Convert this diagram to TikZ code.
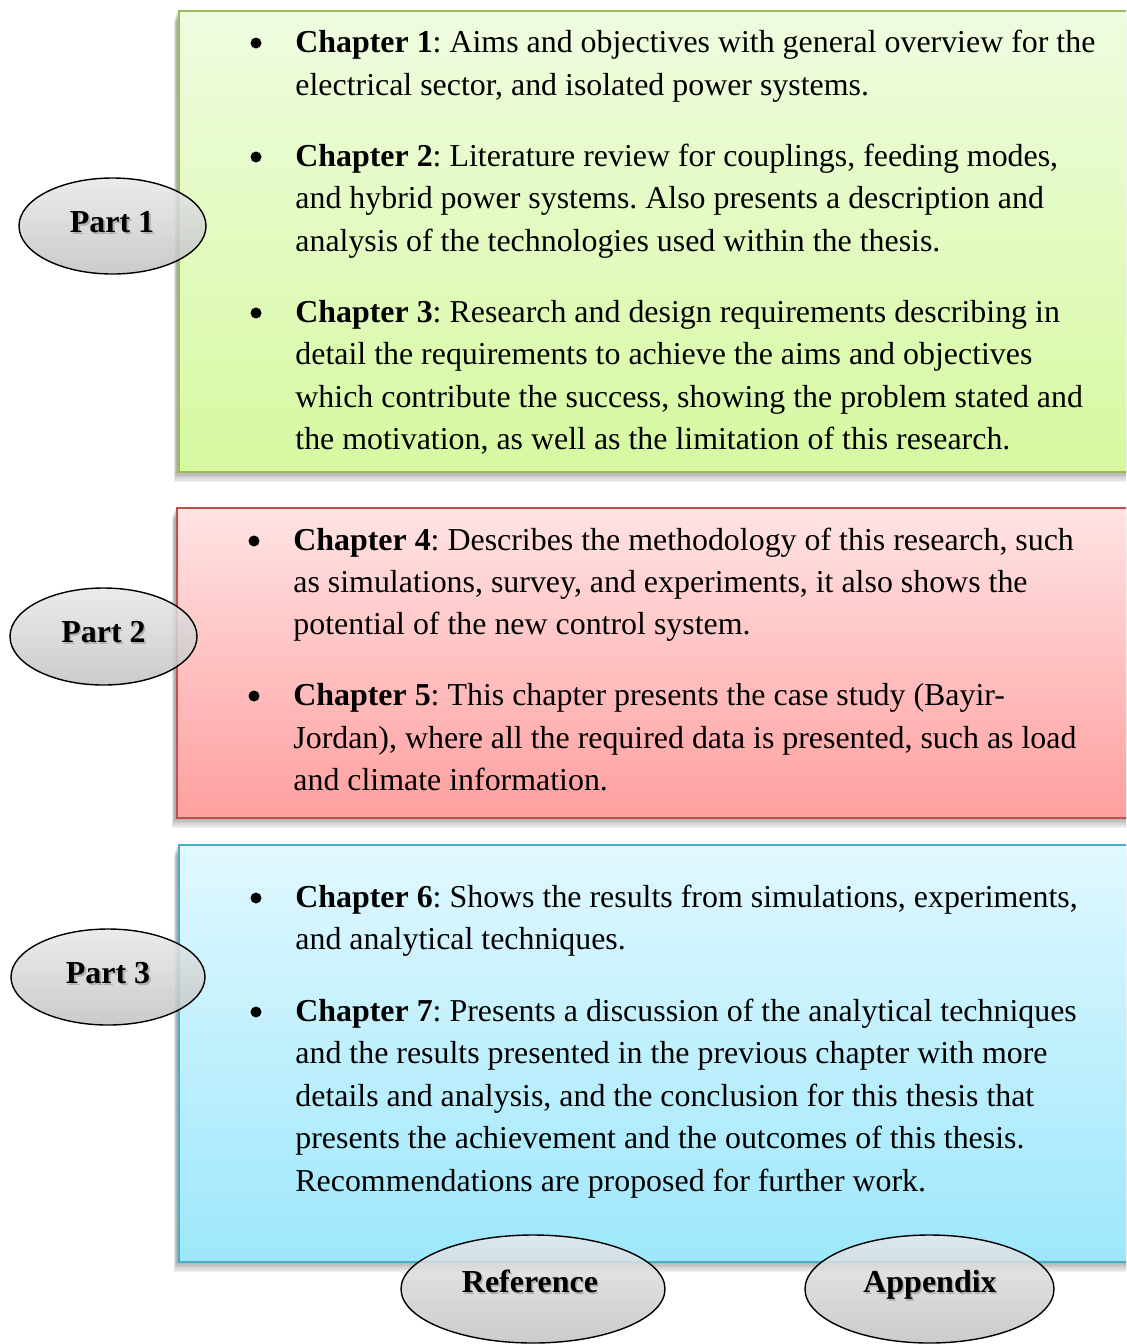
\documentclass[tikz,border=0pt]{standalone}
\usepackage{fontspec}
\setmainfont{Liberation Serif}
\usetikzlibrary{shapes.geometric}
\frenchspacing
\definecolor{gbord}{HTML}{9BBB59}
\definecolor{gtop}{HTML}{EFFCE0}
\definecolor{gbot}{HTML}{D6F9A0}
\definecolor{rbord}{HTML}{C0504D}
\definecolor{rtop}{HTML}{FFE3E3}
\definecolor{rbot}{HTML}{FF9F9F}
\definecolor{bbord}{HTML}{4BACC6}
\definecolor{btop}{HTML}{E1F8FF}
\definecolor{bbot}{HTML}{9DE7FB}
\definecolor{etop}{HTML}{E6E8EA}
\definecolor{ebot}{HTML}{C2C2C2}
\newcommand{\softshadow}[4]{%
  \foreach \k in {1,...,7}{%
    \fill[black,opacity=0.055] (#1-1-0.5*\k,#2+1.5*\k) rectangle (#3,#4+1.6*\k);
  }}
\begin{document}
\begin{tikzpicture}[x=0.5pt,y=-0.5pt,
  txt/.style={font=\fontsize{15.95pt}{21.15pt}\selectfont\frenchspacing, inner sep=0pt, anchor=base west},
  lbl/.style={font=\fontsize{16pt}{21.15pt}\selectfont\bfseries, inner sep=0pt, anchor=base},
  lblsh/.style={lbl, text=black!45, opacity=0.55},
  bul/.style={circle, fill=black, inner sep=0pt, minimum size=5.5pt},
  box/.style={rectangle, anchor=north west, inner sep=0pt, line width=1pt},
  oval/.style={ellipse, inner sep=0pt, draw=black, line width=0.7pt, top color=etop, bottom color=ebot, fill opacity=0.85},
]
\useasboundingbox (0,0) rectangle (1126,1344);
\clip (0,0) rectangle (1126,1344);

% ---------- boxes ----------
\softshadow{178}{10}{1140}{471}
\node[box, draw=gbord, top color=gtop, bottom color=gbot, minimum width=481pt, minimum height=230.5pt] (box1) at (178,10) {};
\softshadow{176}{507}{1140}{817}
\node[box, draw=rbord, top color=rtop, bottom color=rbot, minimum width=482pt, minimum height=155pt] (box2) at (176,507) {};
\softshadow{178}{844}{1140}{1261}
\node[box, draw=bbord, top color=btop, bottom color=bbot, minimum width=481pt, minimum height=208.5pt] (box3) at (178,844) {};

% ---------- Part 1 text ----------
\node[bul] (b1) at (256,43) {};
\node[txt] (t11) at (295,52) {\textbf{Chapter 1}: Aims and objectives with general overview for the};
\node[txt] (t12) at (295,95) {electrical sector, and isolated power systems.};
\node[bul] (b2) at (256,157) {};
\node[txt] (t21) at (295,166) {\textbf{Chapter 2}: Literature review for couplings, feeding modes,};
\node[txt] (t22) at (295,208) {and hybrid power systems. Also presents a description and};
\node[txt] (t23) at (295,251) {analysis of the technologies used within the thesis.};
\node[bul] (b3) at (256,313) {};
\node[txt] (t31) at (295,322) {\textbf{Chapter 3}: Research and design requirements describing in};
\node[txt] (t32) at (295,364) {detail the requirements to achieve the aims and objectives};
\node[txt] (t33) at (295,407) {which contribute the success, showing the problem stated and};
\node[txt] (t34) at (295,449) {the motivation, as well as the limitation of this research.};

% ---------- Part 2 text ----------
\node[bul] (b4) at (254,541) {};
\node[txt] (t41) at (293,550) {\textbf{Chapter 4}: Describes the methodology of this research, such};
\node[txt] (t42) at (293,592) {as simulations, survey, and experiments, it also shows the};
\node[txt] (t43) at (293,634) {potential of the new control system.};
\node[bul] (b5) at (254,696) {};
\node[txt] (t51) at (293,705) {\textbf{Chapter 5}: This chapter presents the case study (Bayir-};
\node[txt] (t52) at (293,748) {Jordan), where all the required data is presented, such as load};
\node[txt] (t53) at (293,790) {and climate information.};

% ---------- Part 3 text ----------
\node[bul] (b6) at (256,898) {};
\node[txt] (t61) at (295,907) {\textbf{Chapter 6}: Shows the results from simulations, experiments,};
\node[txt] (t62) at (295,949) {and analytical techniques.};
\node[bul] (b7) at (256,1012) {};
\node[txt] (t71) at (295,1021) {\textbf{Chapter 7}: Presents a discussion of the analytical techniques};
\node[txt] (t72) at (295,1063) {and the results presented in the previous chapter with more};
\node[txt] (t73) at (295,1106) {details and analysis, and the conclusion for this thesis that};
\node[txt] (t74) at (295,1148) {presents the achievement and the outcomes of this thesis.};
\node[txt] (t75) at (295,1191) {Recommendations are proposed for further work.};

% ---------- ovals ----------
\node[oval, minimum width=93.5pt, minimum height=48pt] (e1) at (112.5,226) {};
\node[lblsh] (s1) at (114,234.5) {Part 1};
\node[lbl] (l1) at (112,232) {Part 1};

\node[oval, minimum width=93.5pt, minimum height=48.5pt] (e2) at (103.5,636.5) {};
\node[lblsh] (s2) at (105,644.5) {Part 2};
\node[lbl] (l2) at (103.5,642) {Part 2};

\node[oval, minimum width=97pt, minimum height=48pt] (e3) at (108,977) {};
\node[lblsh] (s3) at (110,985.5) {Part 3};
\node[lbl] (l3) at (108,983) {Part 3};

\node[oval, minimum width=132pt, minimum height=54pt] (e4) at (533,1289) {};
\node[lblsh] (s4) at (531.5,1294.5) {Reference};
\node[lbl] (l4) at (530,1292) {Reference};

\node[oval, minimum width=124.5pt, minimum height=54pt] (e5) at (929.5,1289) {};
\node[lblsh] (s5) at (931.5,1294.5) {Appendix};
\node[lbl] (l5) at (930,1292) {Appendix};
\end{tikzpicture}
\end{document}
